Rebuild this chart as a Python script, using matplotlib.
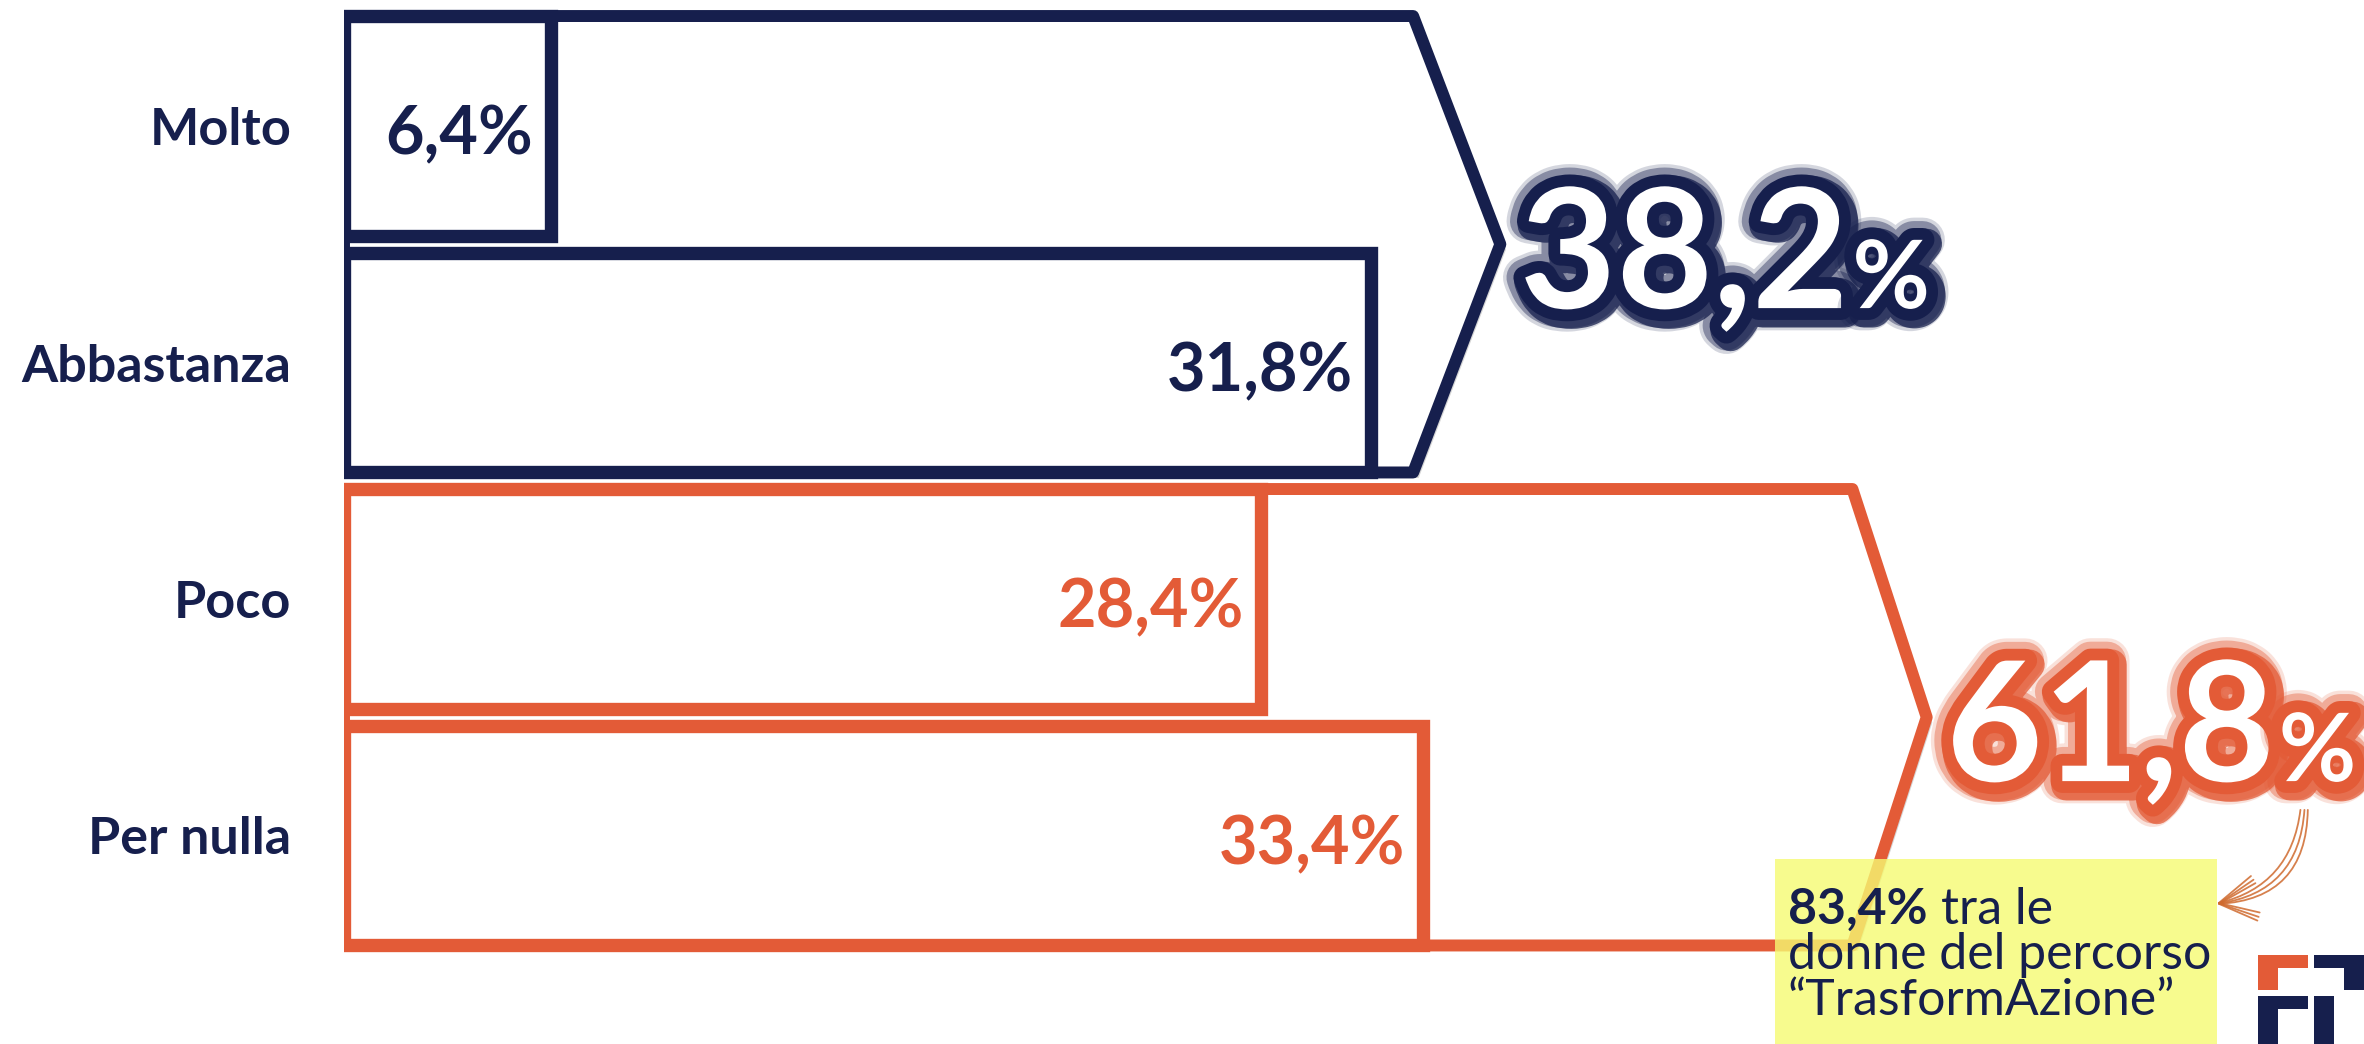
import matplotlib
matplotlib.use("Agg")
import matplotlib.pyplot as plt
from matplotlib.patches import Polygon, Rectangle
from matplotlib import patheffects as pe
from matplotlib.transforms import offset_copy

# data
categories = ["Molto", "Abbastanza", "Poco", "Per nulla"]
values = [6.4, 31.8, 28.4, 33.4]
groups = [[0, 1], [2, 3]]          # rows summed into each bracket
women_share = 83.4
note_rest = ["tra le", "donne del percorso", "\u201cTrasformAzione\u201d"]

NAVY = "#161f4d"
ORANGE = "#e35b37"
YELLOW = "#f6fb72"
ARROW = "#cf6a2e"
FONT = "Lato"
bar_colors = [NAVY, NAVY, ORANGE, ORANGE]
group_colors = [NAVY, ORANGE]

# bracket geometry (in % units along x)
chevron_flat = [33.1, 46.7]
chevron_tip = [35.8, 49.0]


def fmt(v, pct=True):
    s = f"{v:.1f}".replace(".", ",")
    return s + "%" if pct else s


W, H = 2364, 1044
fig = plt.figure(figsize=(W / 100, H / 100), dpi=100)
fig.patch.set_facecolor("white")
x0 = 344
scale = 32.3  # pixels per percent point
row0, row_step = 126, 236.5
ax = fig.add_axes([x0 / W, 0, 1 - x0 / W, 1])
ax.set_xlim(0, (W - x0) / scale)
ax.set_ylim((H - row0) / row_step, -row0 / row_step)
for s in ax.spines.values():
    s.set_visible(False)
ax.set_xticks([])
ax.set_yticks(range(len(categories)), categories)
ax.tick_params(axis="y", length=0, pad=38, labelsize=37.5, labelcolor=NAVY)
for lab in ax.get_yticklabels():
    lab.set_fontfamily(FONT)
    lab.set_fontweight("bold")

bar_h = 0.93
half = bar_h / 2
shadow = [pe.SimplePatchShadow(offset=(4, -4), shadow_rgbFace="#888888", alpha=0.35), pe.Normal()]

# brackets
for rows, col, flat, tip in zip(groups, group_colors, chevron_flat, chevron_tip):
    top = rows[0] - half
    bot = rows[-1] + half
    mid = (top + bot) / 2
    poly = Polygon([(0, top), (flat, top), (tip, mid), (flat, bot), (0, bot)], closed=True,
                   facecolor="white", edgecolor=col, lw=8.6, joinstyle="round", zorder=1,
                   path_effects=shadow)
    ax.add_patch(poly)

# bars
bars = ax.barh(range(len(values)), values, height=bar_h, left=0, color="white",
               edgecolor=bar_colors, linewidth=9.6, zorder=2)
for b in bars:
    b.set_path_effects(shadow)

for i, v in enumerate(values):
    ax.text(v - 0.55, i + 0.12, fmt(v), ha="right", va="baseline", fontsize=48,
            fontweight="bold", fontfamily=FONT, color=bar_colors[i], zorder=4)


def glow(col):
    return [pe.Stroke(linewidth=32, foreground=col, alpha=0.18),
            pe.Stroke(linewidth=27, foreground=col, alpha=0.4),
            pe.Stroke(linewidth=22, foreground=col, alpha=0.75, offset=(3, -3)),
            pe.Stroke(linewidth=17, foreground=col),
            pe.Normal()]


fig.canvas.draw()
renderer = fig.canvas.get_renderer()

# bracket totals
for rows, col, tip in zip(groups, group_colors, chevron_tip):
    total = sum(values[i] for i in rows)
    mid = (rows[0] + rows[-1]) / 2
    tx, ty = tip + 0.6, mid + 0.27
    t1 = ax.text(tx, ty, fmt(total, pct=False), ha="left", va="baseline", fontsize=120,
                 fontweight="bold", fontfamily=FONT, color="white", zorder=5,
                 path_effects=glow(col))
    ext = t1.get_window_extent(renderer)
    dx = ext.x1 - ax.transData.transform((tx, ty))[0]
    ax.text(tx, ty, "%", ha="left", va="baseline", fontsize=68, fontweight="bold",
            fontfamily=FONT, color="white", zorder=5, path_effects=glow(col),
            transform=offset_copy(ax.transData, fig=fig, x=dx + 4, y=0, units="dots"))

# highlighted note
ax.add_patch(Rectangle((44.3, 3.10), 13.7, 0.8, facecolor=YELLOW, edgecolor="none",
                       alpha=0.8, zorder=6, clip_on=False))
nx = 44.7
line_y = [3.374, 3.564, 3.758]
tb = ax.text(nx, line_y[0], fmt(women_share), ha="left", va="baseline", fontsize=36,
             fontweight="bold", fontfamily=FONT, color=NAVY, zorder=7)
ext = tb.get_window_extent(renderer)
dx = ext.x1 - ax.transData.transform((nx, line_y[0]))[0]
ax.text(nx, line_y[0], note_rest[0], ha="left", va="baseline", fontsize=36,
        fontfamily=FONT, color=NAVY, zorder=7,
        transform=offset_copy(ax.transData, fig=fig, x=dx + 14, y=0, units="dots"))
for y, line in zip(line_y[1:], note_rest[1:]):
    ax.text(nx, y, line, ha="left", va="baseline", fontsize=36, fontfamily=FONT,
            color=NAVY, zorder=7)

# sketchy arrow from the total to the note
for rad, sx in [(-0.42, 0.0), (-0.36, -0.12), (-0.48, 0.1)]:
    ax.annotate("", xy=(57.9, 3.29), xytext=(60.7 + sx, 2.88), zorder=7,
                arrowprops=dict(arrowstyle="->, head_length=0.9, head_width=0.45",
                                connectionstyle=f"arc3,rad={rad}", color=ARROW,
                                lw=1.3, mutation_scale=30, alpha=0.85))

# logo in the corner
logo = [((2258, 955), 50, 13, ORANGE), ((2258, 955), 20, 35, ORANGE),
        ((2314, 955), 50, 13, NAVY), ((2344, 955), 20, 35, NAVY),
        ((2258, 996), 50, 13, NAVY), ((2258, 996), 20, 48, NAVY),
        ((2314, 996), 20, 48, NAVY)]
for (lx, ly), w, h, c in logo:
    fig.patches.append(Rectangle((lx / W, 1 - (ly + h) / H), w / W, h / H,
                                 transform=fig.transFigure, facecolor=c,
                                 edgecolor="none", figure=fig))

fig.savefig("out.png", dpi=100)
